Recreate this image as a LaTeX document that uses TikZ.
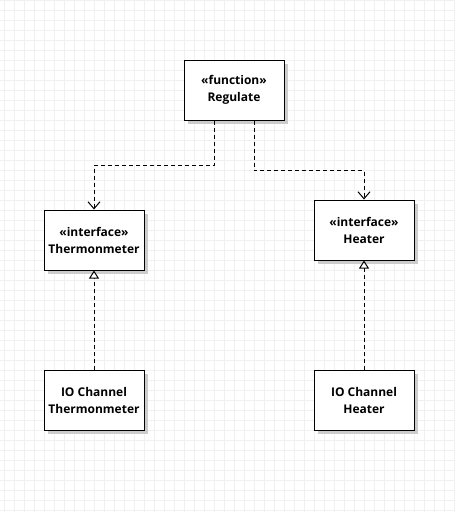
\documentclass[tikz,border=0pt]{standalone}
\usepackage{fontspec}
\setmainfont{Open Sans}
\usepackage{tikz}
\usetikzlibrary{shapes, shadows, arrows.meta}
\tikzstyle{block}=[draw, rectangle, line width=1pt, fill=white, minimum width=100pt, minimum height=60pt, inner sep=0pt, align=center, font=\fontsize{12}{17}\selectfont\bfseries, drop shadow={shadow xshift=4pt, shadow yshift=-4pt, fill=black!20, opacity=1}]
\tikzstyle{dep}=[draw, line width=1pt, dash pattern=on 4pt off 3pt, -{Straight Barb[length=7pt, width=12pt, line width=1pt]}]
\tikzstyle{real}=[draw, line width=1pt, dash pattern=on 4pt off 3pt, -{Triangle[open, length=8pt, width=10pt, line width=1pt, fill=white]}]

\begin{document}
\begin{tikzpicture}[x=1pt, y=-1pt]
		\fill[white] (0,0) rectangle (455,512);
		\useasboundingbox (0,0) rectangle (455,512);
		\foreach \i in {4,14,...,454} \draw[black!6, line width=1pt] (\i,0) -- (\i,512);
		\foreach \j in {0,10,...,510} \draw[black!6, line width=1pt] (0,\j) -- (455,\j);
	%--------------------
		\node[block] (R) at (234,90) {«function»\\Regulate};
		\node[block] (IT) at (94,240) {«interface»\\Thermonmeter};
		\node[block] (IH) at (364,230) {«interface»\\Heater};
		\node[block] (CT) at (94,400) {IO Channel\\Thermonmeter};
		\node[block] (CH) at (364,400) {IO Channel\\Heater};
	%--------------------
		\draw[dep] ([xshift=-20pt]R.south) -- ++(0,45) -| (IT.north);
		\draw[dep] ([xshift=20pt]R.south) -- ++(0,50) -| (IH.north);
		\draw[real] (CT.north) -- (IT.south);
		\draw[real] (CH.north) -- (IH.south);
	\end{tikzpicture}
\end{document}
